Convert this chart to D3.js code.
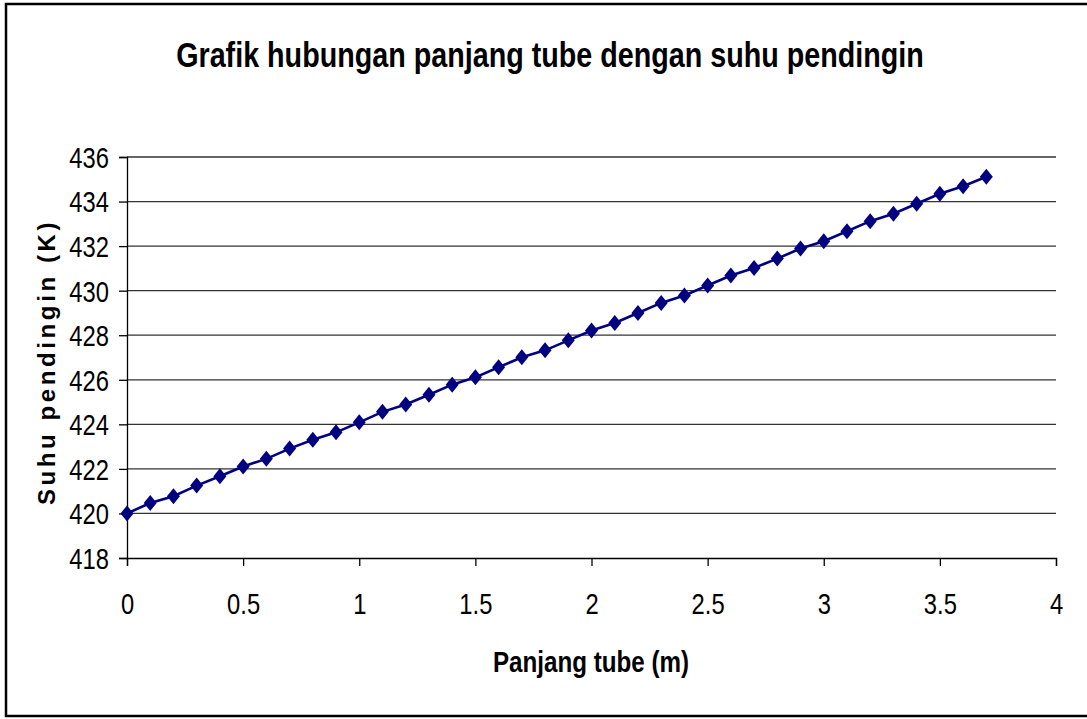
<html>
<head>
	<title>Grafik hubungan panjang tube</title>
	<meta charset="utf-8">
	<script src="https://d3js.org/d3.v7.min.js"></script>
	<style>
		body { margin: 0; background: #fff; }
		text { font-family: "Liberation Sans", Arial, sans-serif; }
	</style>
</head>
<body>
	<script type="text/javascript">
		var width = 1087
		var height = 719
		var narrow = 0.82   // tidak ada Arial Narrow, jadi teks dipadatkan manual

		// panjang tube (m) dan suhu pendingin (K)
		var panjang = [0, 0.1, 0.2, 0.3, 0.4, 0.5, 0.6, 0.7, 0.8, 0.9,
			1.0, 1.1, 1.2, 1.3, 1.4, 1.5, 1.6, 1.7, 1.8, 1.9,
			2.0, 2.1, 2.2, 2.3, 2.4, 2.5, 2.6, 2.7, 2.8, 2.9,
			3.0, 3.1, 3.2, 3.3, 3.4, 3.5, 3.6, 3.7]
		var suhu = [420.0, 420.47, 420.77, 421.25, 421.67, 422.11, 422.45, 422.91, 423.31, 423.64,
			424.09, 424.56, 424.89, 425.33, 425.78, 426.11, 426.56, 427.01, 427.32, 427.77,
			428.21, 428.55, 429.0, 429.45, 429.78, 430.23, 430.68, 431.02, 431.44, 431.89,
			432.22, 432.67, 433.12, 433.45, 433.9, 434.35, 434.69, 435.11]
		var xTicks = [0, 0.5, 1, 1.5, 2, 2.5, 3, 3.5, 4]
		var yTicks = [418, 420, 422, 424, 426, 428, 430, 432, 434, 436]

		var data = panjang.map((p, i) => ({x: p, y: suhu[i]}))

		var svg = d3.select("body").append("svg")
			.attr("width", width)
			.attr("height", height)

		// bingkai
		svg.append("rect")
			.attr("x", 6).attr("y", 4)
			.attr("width", width + 10).attr("height", 712)
			.attr("fill", "none").attr("stroke", "#000").attr("stroke-width", 2.5)

		var x = d3.scaleLinear().domain([0, 4]).range([127, 1056])
		var y = d3.scaleLinear().domain([418, 436]).range([558, 157])

		// garis grid
		svg.append("g")
			.selectAll("line")
			.data(yTicks.slice(1))
			.enter()
			.append("line")
				.attr("x1", x(0)).attr("x2", x(4))
				.attr("y1", d => y(d)).attr("y2", d => y(d))
				.attr("stroke", "#333").attr("stroke-width", 1.3)

		var xAxis = svg.append("g")
			.attr("transform", "translate(0," + y(418) + ")")
			.call(d3.axisBottom(x).tickValues(xTicks).tickSize(8).tickPadding(27).tickFormat(d3.format("")))
		var yAxis = svg.append("g")
			.attr("transform", "translate(" + x(0) + ",0)")
			.call(d3.axisLeft(y).tickValues(yTicks).tickSize(8).tickPadding(10).tickFormat(d3.format("")))

		svg.selectAll(".domain").attr("stroke", "#000").attr("stroke-width", 1.3)
		svg.selectAll(".tick line").attr("stroke", "#000").attr("stroke-width", 1.3)
		svg.selectAll(".tick text")
			.attr("font-size", 29)
			.attr("font-family", "'Liberation Sans', Arial, sans-serif")
			.attr("fill", "#000")
			.attr("transform", "scale(" + narrow + ",1)")
		yAxis.selectAll(".tick text")
			.attr("dy", "0.36em")
			.attr("x", -18 / narrow)

		var line = d3.line().x(d => x(d.x)).y(d => y(d.y))
		svg.append("path")
			.datum(data)
			.attr("d", line)
			.attr("fill", "none")
			.attr("stroke", "#000080")
			.attr("stroke-width", 2.6)

		svg.append("g")
			.selectAll("path")
			.data(data)
			.enter()
			.append("path")
				.attr("transform", d => "translate(" + x(d.x) + "," + y(d.y) + ")")
				.attr("d", "M0,-8L6.5,0L0,8L-6.5,0Z")
				.attr("fill", "#000080")

		svg.append("text")
			.attr("transform", "translate(550,67) scale(" + narrow + ",1)")
			.attr("text-anchor", "middle")
			.attr("font-size", 35).attr("font-weight", "bold")
			.text("Grafik hubungan panjang tube dengan suhu pendingin")

		svg.append("text")
			.attr("transform", "translate(591,672) scale(" + narrow + ",1)")
			.attr("text-anchor", "middle")
			.attr("font-size", 29.5).attr("font-weight", "bold")
			.text("Panjang tube (m)")

		svg.append("text")
			.attr("transform", "translate(55,362) rotate(-90)")
			.attr("text-anchor", "middle")
			.attr("font-size", 24).attr("font-weight", "bold")
			.attr("letter-spacing", 3.6)
			.text("Suhu pendingin (K)")
	</script>
</body>
</html>
